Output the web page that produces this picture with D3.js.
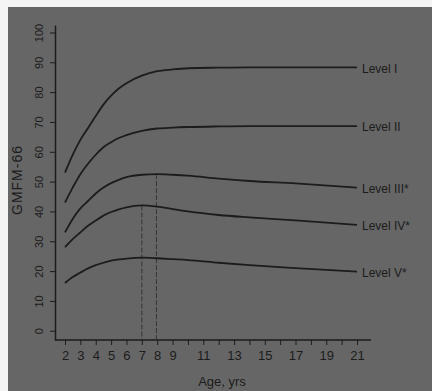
<!DOCTYPE html>
<html>
<head>
<meta charset="utf-8">
<script src="https://cdn.jsdelivr.net/npm/d3@7"></script>
<style>
  html, body { margin: 0; padding: 0; background: #f4f4f4; }
  svg { display: block; font-family: "Liberation Sans", Arial, sans-serif; }
</style>
</head>
<body>
<div id="chart"></div>
<script>
const ages = [2, 2.5, 3, 3.5, 4, 4.5, 5, 5.5, 6, 7, 8, 9, 10, 12, 14, 17, 21];

// GMFM-66 score per GMFCS level
const levelI   = [53, 59, 64, 68, 72, 75.8, 78.8, 81.2, 83, 85.5, 87, 87.6, 88, 88.2, 88.3, 88.3, 88.3];
const levelII  = [43, 48, 52.5, 56, 59, 61.5, 63.2, 64.6, 65.6, 67, 67.8, 68.1, 68.3, 68.5, 68.6, 68.6, 68.6];
const levelIII = [33, 37.5, 41, 43.5, 46, 48, 49.5, 50.6, 51.5, 52.3, 52.5, 52.3, 52, 51, 50.2, 49.4, 48];
const levelIV  = [28, 30.7, 33, 35.2, 37, 38.6, 39.8, 40.7, 41.4, 42, 41.6, 40.8, 40, 38.8, 38, 37, 35.5];
const levelV   = [16, 18, 19.5, 20.9, 22, 22.8, 23.5, 23.9, 24.2, 24.5, 24.3, 24, 23.7, 22.8, 22, 21, 19.8];

const seriesNames = ["Level I", "Level II", "Level III*", "Level IV*", "Level V*"];
const seriesValues = [levelI, levelII, levelIII, levelIV, levelV];

// peak markers (age, score) for levels IV and III
const peakAges = [7, 7.95];
const peakScores = [42, 52.5];

const yTicks = [0, 10, 20, 30, 40, 50, 60, 70, 80, 90, 100];
const xTickValues = d3.range(2, 22);
const xTickLabels = [2, 3, 4, 5, 6, 7, 8, 9, 11, 13, 15, 17, 19, 21];

const width = 432, height = 391;
const ink = "#1c1c1c";

const svg = d3.select("#chart")
  .append("svg")
  .attr("width", width)
  .attr("height", height);

// scanned grey page
svg.append("rect")
  .attr("x", 8).attr("y", 7)
  .attr("width", width - 8).attr("height", height - 7)
  .attr("fill", "#666666");

const xScale = d3.scaleLinear()
  .domain([2, 21])
  .range([65, 357]);

const yScale = d3.scaleLinear()
  .domain([-3.1, 102.5])
  .range([340, 25]);

// x axis
const xAxis = d3.axisBottom(xScale)
  .tickValues(xTickValues)
  .tickSize(5)
  .tickSizeOuter(0)
  .tickFormat(d => xTickLabels.includes(d) ? d : "");

const gx = svg.append("g")
  .attr("transform", "translate(0," + yScale(-3.1) + ")")
  .call(xAxis);
gx.select(".domain").attr("d", "M55,0H371").attr("stroke", ink).attr("stroke-width", 1.5);
gx.selectAll(".tick line").attr("stroke", ink);
gx.selectAll(".tick text")
  .attr("fill", ink)
  .attr("font-size", 13)
  .attr("y", 8)
  .attr("dy", "0.9em");

// y axis
const yAxis = d3.axisLeft(yScale)
  .tickValues(yTicks)
  .tickSize(5)
  .tickSizeOuter(0);

const gy = svg.append("g")
  .attr("transform", "translate(55,0)")
  .call(yAxis);
gy.select(".domain").attr("stroke", ink).attr("stroke-width", 1.5);
gy.selectAll(".tick line").attr("stroke", ink);
gy.selectAll(".tick text")
  .attr("fill", ink)
  .attr("font-size", 11)
  .attr("x", null).attr("dy", null)
  .attr("text-anchor", "middle")
  .attr("transform", "translate(-15,0) rotate(-90)")
  .attr("y", 0)
  .attr("dominant-baseline", "middle");

// axis titles
svg.append("text")
  .attr("transform", "translate(222,383)")
  .attr("text-anchor", "middle")
  .attr("dominant-baseline", "middle")
  .attr("font-size", 13)
  .attr("fill", ink)
  .text("Age, yrs");

svg.append("text")
  .attr("transform", "translate(18,180) rotate(-90)")
  .attr("text-anchor", "middle")
  .attr("dominant-baseline", "middle")
  .attr("font-size", 14)
  .attr("letter-spacing", 1)
  .attr("fill", ink)
  .text("GMFM-66");

// peak drop lines
svg.selectAll(".peak")
  .data(peakAges)
  .enter()
  .append("line")
  .attr("class", "peak")
  .attr("x1", d => xScale(d))
  .attr("x2", d => xScale(d))
  .attr("y1", (d, i) => yScale(peakScores[i]))
  .attr("y2", yScale(-3.1))
  .attr("stroke", "#2a2a2a")
  .attr("stroke-width", 1)
  .attr("stroke-dasharray", "5,2")
  .attr("opacity", 0.8);

// curves
const line = d3.line()
  .x((d, i) => xScale(ages[i]))
  .y(d => yScale(d))
  .curve(d3.curveMonotoneX);

svg.selectAll(".curve")
  .data(seriesValues)
  .enter()
  .append("path")
  .attr("class", "curve")
  .attr("d", d => line(d))
  .attr("fill", "none")
  .attr("stroke", ink)
  .attr("stroke-width", 1.8);

// curve labels
svg.selectAll(".lbl")
  .data(seriesNames)
  .enter()
  .append("text")
  .attr("class", "lbl")
  .attr("x", 362)
  .attr("y", (d, i) => yScale(seriesValues[i][seriesValues[i].length - 1]) + 2)
  .attr("dominant-baseline", "middle")
  .attr("font-size", 12)
  .attr("fill", ink)
  .text(d => d);
</script>
</body>
</html>
